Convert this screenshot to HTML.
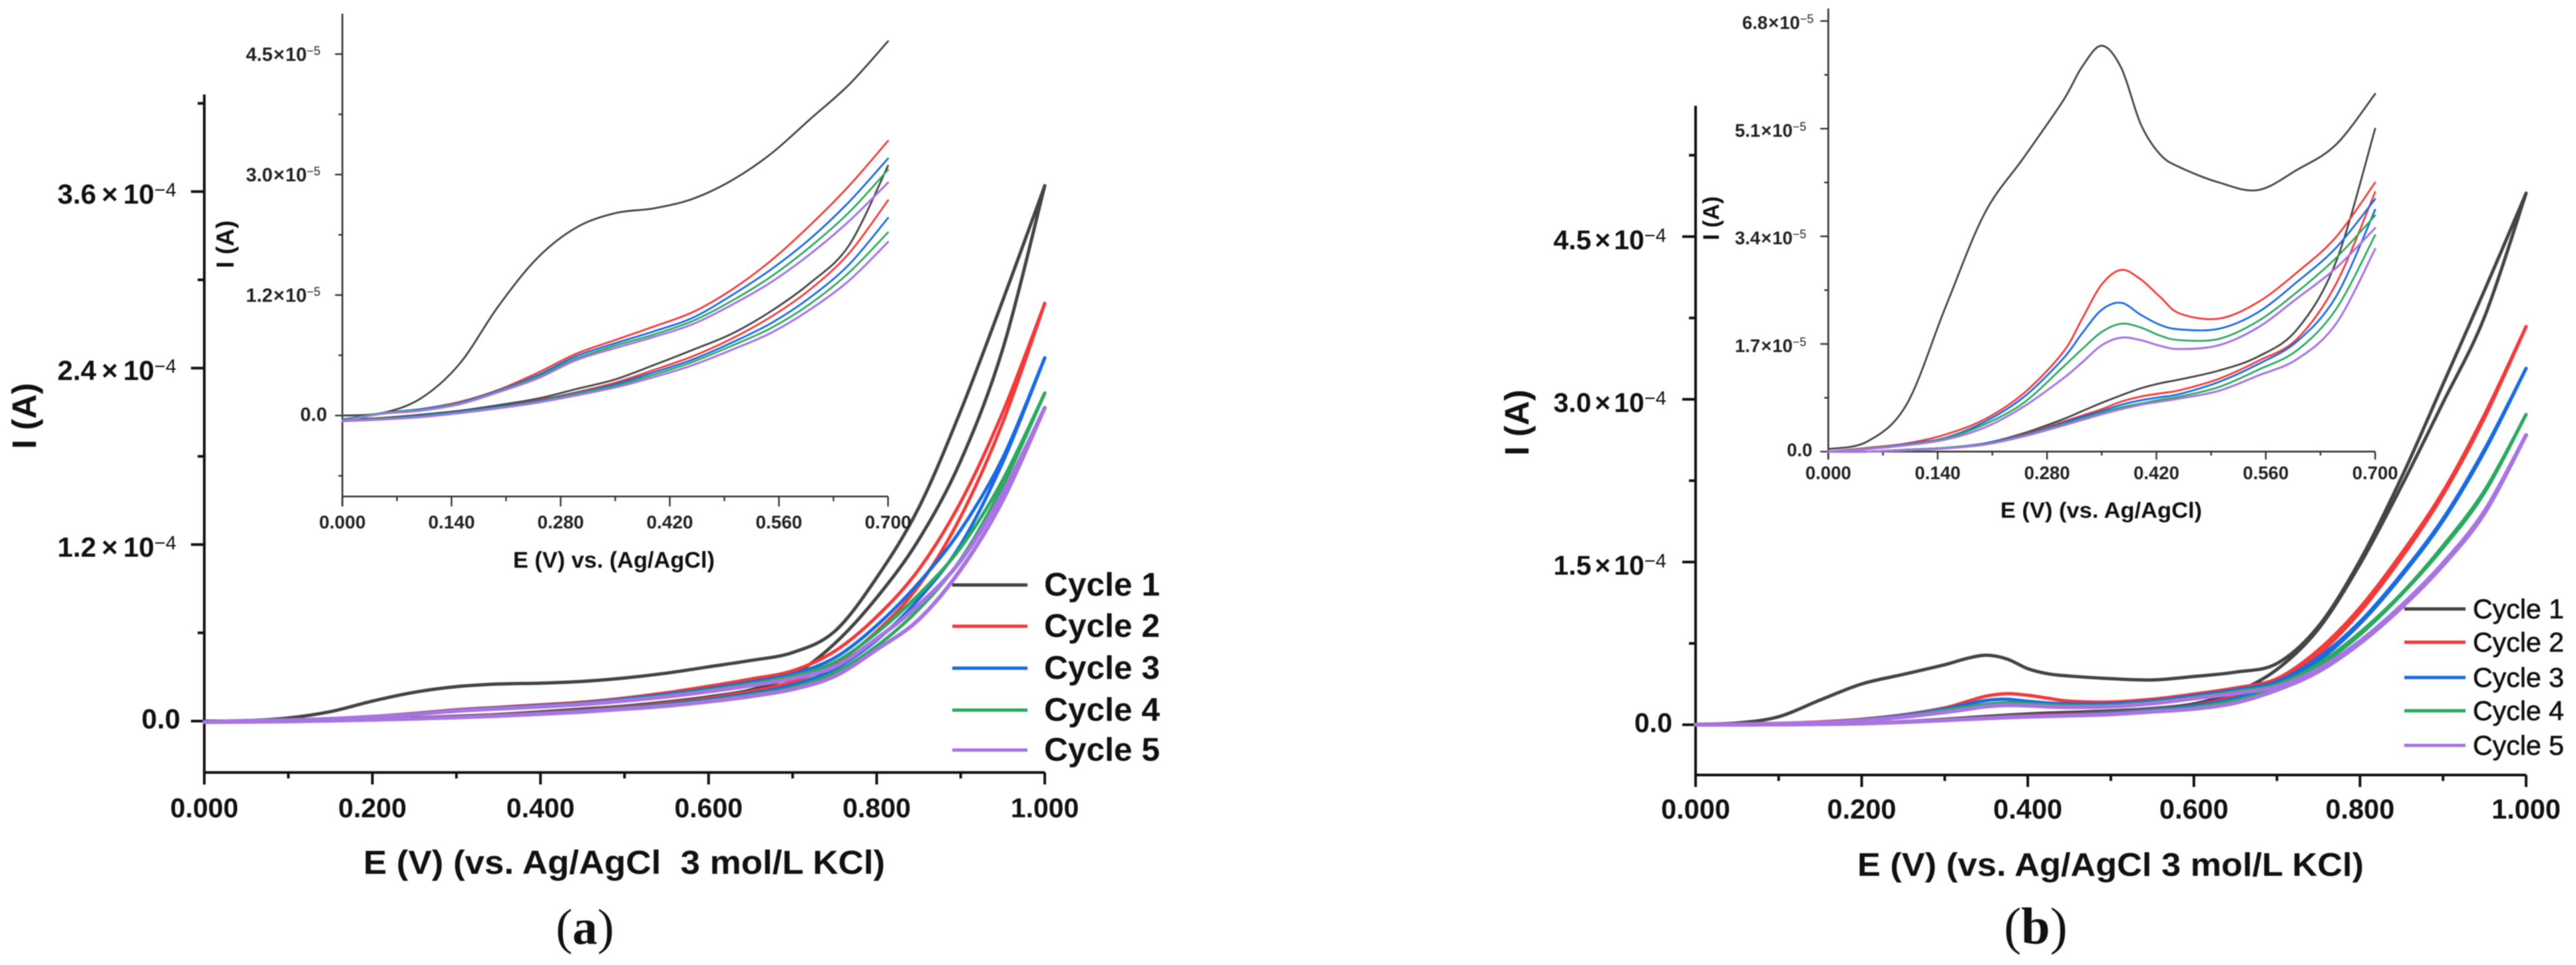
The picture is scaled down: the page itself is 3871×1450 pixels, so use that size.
<!DOCTYPE html>
<html lang="en">
<head>
<meta charset="utf-8">
<title>Cyclic voltammograms (a) and (b)</title>
<style>
html,body{margin:0;padding:0;background:#fff;}
#figure{display:block;width:3871px;height:1450px;background:#fff;font-family:"Liberation Sans",sans-serif;filter:blur(0.7px);}
text{fill:#111;}
.main-tick{font-weight:bold;}
.inset-tick{font-weight:bold;fill:#222;}
.title{font-weight:bold;}
.legend-a{font-weight:bold;font-size:49px;}
.legend-b{font-size:41px;stroke:#111;stroke-width:.7px;}
.cap{font-family:"Liberation Serif",serif;}
</style>
</head>
<body>
<svg id="figure" xmlns="http://www.w3.org/2000/svg" width="3871" height="1450" viewBox="0 0 3871 1450">
  <g id="a-main"></g>
  <g id="a-inset"></g>
  <g id="b-main"></g>
  <g id="b-inset"></g>

  <text class="title" x="546" y="1313" font-size="50" textLength="784" lengthAdjust="spacingAndGlyphs" xml:space="preserve">E (V) (vs. Ag/AgCl  3 mol/L KCl)</text>
  <text class="title" transform="translate(54,625) rotate(-90)" text-anchor="middle" font-size="51">I (A)</text>
  <text class="title" x="771" y="853" font-size="34" textLength="303" lengthAdjust="spacingAndGlyphs">E (V) vs. (Ag/AgCl)</text>
  <text class="title" transform="translate(351,367) rotate(-90)" text-anchor="middle" font-size="37">I (A)</text>

  <text class="title" x="2791" y="1316" font-size="49" textLength="761" lengthAdjust="spacingAndGlyphs">E (V) (vs. Ag/AgCl 3 mol/L KCl)</text>
  <text class="title" transform="translate(2297,635) rotate(-90)" text-anchor="middle" font-size="51">I (A)</text>
  <text class="title" x="3006" y="778" font-size="33" textLength="303" lengthAdjust="spacingAndGlyphs">E (V) (vs. Ag/AgCl)</text>
  <text class="title" transform="translate(2583,328) rotate(-90)" text-anchor="middle" font-size="34">I (A)</text>

  <g>
    <line x1="1431" x2="1544" y1="879" y2="879" stroke="#444" stroke-width="5"/>
    <text class="legend-a" x="1569" y="895" textLength="174" lengthAdjust="spacingAndGlyphs">Cycle 1</text>
    <line x1="1431" x2="1544" y1="941" y2="941" stroke="#f23a3a" stroke-width="5"/>
    <text class="legend-a" x="1569" y="957" textLength="174" lengthAdjust="spacingAndGlyphs">Cycle 2</text>
    <line x1="1431" x2="1544" y1="1004" y2="1004" stroke="#1a6ae0" stroke-width="5"/>
    <text class="legend-a" x="1569" y="1020" textLength="174" lengthAdjust="spacingAndGlyphs">Cycle 3</text>
    <line x1="1431" x2="1544" y1="1067" y2="1067" stroke="#2ca85f" stroke-width="5"/>
    <text class="legend-a" x="1569" y="1083" textLength="174" lengthAdjust="spacingAndGlyphs">Cycle 4</text>
    <line x1="1431" x2="1544" y1="1127" y2="1127" stroke="#a874e2" stroke-width="5"/>
    <text class="legend-a" x="1569" y="1143" textLength="174" lengthAdjust="spacingAndGlyphs">Cycle 5</text>
  </g>

  <g>
    <line x1="3613" x2="3705" y1="915" y2="915" stroke="#444" stroke-width="5"/>
    <text class="legend-b" x="3716" y="929" textLength="137" lengthAdjust="spacingAndGlyphs">Cycle 1</text>
    <line x1="3613" x2="3705" y1="965" y2="965" stroke="#f23a3a" stroke-width="5"/>
    <text class="legend-b" x="3716" y="979" textLength="137" lengthAdjust="spacingAndGlyphs">Cycle 2</text>
    <line x1="3613" x2="3705" y1="1018" y2="1018" stroke="#1a6ae0" stroke-width="5"/>
    <text class="legend-b" x="3716" y="1032" textLength="137" lengthAdjust="spacingAndGlyphs">Cycle 3</text>
    <line x1="3613" x2="3705" y1="1068" y2="1068" stroke="#2ca85f" stroke-width="5"/>
    <text class="legend-b" x="3716" y="1082" textLength="137" lengthAdjust="spacingAndGlyphs">Cycle 4</text>
    <line x1="3613" x2="3705" y1="1120" y2="1120" stroke="#a874e2" stroke-width="5"/>
    <text class="legend-b" x="3716" y="1134" textLength="137" lengthAdjust="spacingAndGlyphs">Cycle 5</text>
  </g>

  <text class="cap" x="879" y="1418" font-size="75" text-anchor="middle">(<tspan font-weight="bold">a</tspan>)</text>
  <text class="cap" x="3059" y="1418" font-size="78" text-anchor="middle">(<tspan font-weight="bold">b</tspan>)</text>
</svg>

<script>
// All currents are in units of 1e-5 A; potentials are in V.
const cycleNames = ['Cycle 1', 'Cycle 2', 'Cycle 3', 'Cycle 4', 'Cycle 5'];

// ---- Panel (a) ----
const a_E = [0,.05,.1,.15,.2,.25,.3,.35,.4,.45,.5,.55,.6,.65,.7,.75,.8,.85,.9,.95,1];
const a_c1_up = [0,.03,.21,.64,1.36,1.96,2.34,2.52,2.58,2.70,2.93,3.26,3.69,4.12,4.66,6.1,9.75,14.5,21.1,28.6,36.4];
const a_c1_dn = [-.05,-.03,.01,.06,.13,.21,.33,.45,.63,.82,1.02,1.30,1.65,2.12,3.11,5.27,8.39,12.33,17.7,25.3,36.4];
const a_c2_up = [-.05,.03,.08,.17,.32,.53,.77,.94,1.11,1.29,1.57,1.93,2.37,2.86,3.42,4.75,7.1,10.3,14.9,21,28.4];
const a_c2_dn = [-.06,-.04,0,.05,.11,.19,.29,.41,.57,.74,.96,1.23,1.57,2.02,2.68,3.9,6.1,9.2,13.9,20.3,28.4];
const a_c3_up = [-.05,.03,.08,.16,.31,.50,.74,.90,1.05,1.22,1.50,1.82,2.2,2.66,3.20,4.3,6.5,9.4,13,17.9,24.7];
const a_c3_dn = [-.06,-.04,0,.05,.11,.18,.28,.39,.54,.70,.91,1.15,1.47,1.88,2.46,3.55,5.5,8.3,12.0,17.6,24.7];
const a_c4_up = [-.06,.03,.07,.15,.30,.48,.71,.87,1.01,1.18,1.43,1.73,2.1,2.53,3.06,4.0,6.0,8.6,11.8,16.4,22.3];
const a_c4_dn = [-.06,-.04,-.01,.04,.10,.17,.27,.37,.51,.67,.87,1.09,1.39,1.78,2.28,3.3,5.1,7.6,11.0,16.0,22.3];
const a_c5_up = [-.07,.02,.06,.14,.29,.46,.69,.84,.98,1.14,1.38,1.66,2.01,2.42,2.9,3.7,5.6,7.9,10.9,15.5,21.3];
const a_c5_dn = [-.07,-.05,-.02,.03,.09,.16,.25,.35,.48,.63,.82,1.03,1.32,1.68,2.16,3.05,4.86,6.9,10.3,15.0,21.3];

// ---- Panel (b) ----
const b_E = [0,.05,.1,.15,.2,.25,.3,.325,.35,.375,.4,.425,.45,.5,.55,.6,.65,.7,.75,.8,.85,.9,.95,1];
const b_c1_up = [.04,.16,.74,2.28,3.76,4.64,5.53,6.08,6.41,6.06,5.17,4.69,4.49,4.25,4.13,4.45,4.85,5.65,9.08,15.15,22.8,31.4,40.06,49];
const b_c1_dn = [0,0,.03,.06,.13,.29,.51,.64,.77,.89,1.0,1.08,1.14,1.28,1.5,1.93,3.0,5.1,8.83,14.8,22,29.7,37.6,49];
const b_c2_up = [0,.06,.13,.27,.51,.92,1.56,2.1,2.64,2.87,2.72,2.44,2.18,2.1,2.36,2.83,3.39,4.25,6.9,10.8,15.8,21.5,28.6,36.7];
const b_c2_dn = [0,0,.03,.06,.13,.27,.47,.57,.67,.79,.87,.92,.97,1.15,1.43,1.78,2.65,4.1,6.5,10.4,15.4,21.2,28.3,36.7];
const b_c3_up = [0,.05,.12,.22,.47,.86,1.46,1.87,2.24,2.35,2.16,2.0,1.93,1.94,2.2,2.68,3.22,3.99,6.2,9.5,13.9,19.0,25.4,32.85];
const b_c3_dn = [0,0,.03,.06,.13,.26,.45,.55,.64,.74,.81,.86,.91,1.1,1.38,1.74,2.45,3.82,5.9,9.3,13.7,18.8,25.2,32.85];
const b_c4_up = [0,.05,.11,.21,.43,.77,1.33,1.62,1.89,2.02,1.96,1.83,1.76,1.78,2.06,2.52,3.06,3.73,5.6,8.5,12.1,16.5,21.6,28.6];
const b_c4_dn = [0,0,.03,.06,.12,.25,.43,.52,.61,.7,.76,.82,.87,1.02,1.29,1.6,2.25,3.42,5.4,8.3,12.0,16.3,21.4,28.6];
const b_c5_up = [0,.04,.1,.19,.38,.71,1.15,1.41,1.68,1.8,1.76,1.67,1.62,1.68,1.96,2.42,2.9,3.53,5.15,7.7,11.0,14.9,19.7,26.7];
const b_c5_dn = [0,0,.02,.05,.11,.24,.41,.5,.59,.67,.74,.79,.84,.96,1.2,1.46,2.02,3.2,4.9,7.5,10.8,14.7,19.5,26.7];

// ---- Tick values and printed labels ----
const mainXTicks = [0,.2,.4,.6,.8,1];
const mainXMinor = [.1,.3,.5,.7,.9];
const mainXLabels = ['0.000','0.200','0.400','0.600','0.800','1.000'];
const insetXTicks = [0,.14,.28,.42,.56,.7];
const insetXMinor = [.07,.21,.35,.49,.63];
const insetXLabels = ['0.000','0.140','0.280','0.420','0.560','0.700'];

const aMainYTicks = [0,12,24,36];
const aMainYMinor = [6,18,30,42];
const aMainYLabels = ['0.0','1.2','2.4','3.6'];
const aInsetYTicks = [0,1.5,3,4.5];
const aInsetYMinor = [-.75,.75,2.25,3.75];
const aInsetYLabels = ['0.0','1.2','3.0','4.5'];

const bMainYTicks = [0,15,30,45];
const bMainYMinor = [7.5,22.5,37.5,52.5];
const bMainYLabels = ['0.0','1.5','3.0','4.5'];
const bInsetYTicks = [0,1.7,3.4,5.1,6.8];
const bInsetYMinor = [.85,2.55,4.25,5.95];
const bInsetYLabels = ['0.0','1.7','3.4','5.1','6.8'];

const SVGNS = 'http://www.w3.org/2000/svg';
const palette = ['#444444','#f23a3a','#1a6ae0','#2ca85f','#a874e2'];

function make(tag, parent, attrs) {
  const el = document.createElementNS(SVGNS, tag);
  for (const k in attrs) el.setAttribute(k, attrs[k]);
  parent.appendChild(el);
  return el;
}

function smoothPath(pts) {
  let d = 'M' + pts[0][0].toFixed(2) + ' ' + pts[0][1].toFixed(2);
  for (let i = 0; i < pts.length - 1; i++) {
    const p0 = pts[Math.max(i - 1, 0)], p1 = pts[i], p2 = pts[i + 1], p3 = pts[Math.min(i + 2, pts.length - 1)];
    const c1x = p1[0] + (p2[0] - p0[0]) / 6, c1y = p1[1] + (p2[1] - p0[1]) / 6;
    const c2x = p2[0] - (p3[0] - p1[0]) / 6, c2y = p2[1] - (p3[1] - p1[1]) / 6;
    d += 'C' + c1x.toFixed(2) + ' ' + c1y.toFixed(2) + ' ' + c2x.toFixed(2) + ' ' + c2y.toFixed(2) + ' ' + p2[0].toFixed(2) + ' ' + p2[1].toFixed(2);
  }
  return d;
}

function drawTick(g, x1, y1, x2, y2, width, color, name) {
  const el = make('line', g, {x1: x1, y1: y1, x2: x2, y2: y2, stroke: color, 'stroke-width': width});
  
  
}

function drawYLabel(g, cfg, label, tickY) {
  const isZero = label === '0.0';
  const isTop = label === '6.8';
  const endX = cfg.axisX - (isZero ? cfg.zeroGap : (isTop ? cfg.topGap : cfg.sciGap));
  const base = tickY + (isZero ? cfg.zeroDrop : cfg.sciDrop);
  const t = make('text', g, {x: endX, y: base, 'text-anchor': 'end', 'font-size': cfg.fontY, class: cfg.cls});
  
  
  if (isZero) { t.textContent = label; return; }
  const a = make('tspan', t, {}); a.textContent = label;
  const b = make('tspan', t, {dx: cfg.gap}); b.textContent = '\u00d7';
  const c = make('tspan', t, {dx: cfg.gap}); c.textContent = '10';
  const d = make('tspan', t, {dy: -cfg.supRise, 'font-size': cfg.supSize, 'font-weight': 'normal'}); d.textContent = cfg.exp;
}

function drawChart(cfg) {
  const g = document.getElementById(cfg.id);
  const X = v => cfg.x0 + cfg.xk * v;
  const Y = v => cfg.y0 - cfg.yk * v;

  const yAxis = make('line', g, {x1: cfg.x0, x2: cfg.x0, y1: cfg.top, y2: cfg.bottom + cfg.xMajor, stroke: cfg.axisColor, 'stroke-width': cfg.axisW});
  
  
  const xAxis = make('line', g, {x1: cfg.x0, x2: X(cfg.xEnd), y1: cfg.bottom, y2: cfg.bottom, stroke: cfg.axisColor, 'stroke-width': cfg.axisW});
  
  

  cfg.xTicks.forEach((v, i) => {
    drawTick(g, X(v), cfg.bottom, X(v), cfg.bottom + cfg.xMajor, cfg.tickW, cfg.axisColor, 'x-major-tick');
    const t = make('text', g, {x: X(v), y: cfg.xLabelY, 'text-anchor': 'middle', 'font-size': cfg.fontX, class: cfg.cls});
    
    
    t.textContent = cfg.xLabels[i];
  });
  cfg.xMinor.forEach(v => drawTick(g, X(v), cfg.bottom, X(v), cfg.bottom + cfg.xMinorLen, cfg.tickW, cfg.axisColor, 'x-minor-tick'));

  cfg.yTicks.forEach((v, i) => {
    drawTick(g, cfg.x0 - cfg.yMajor, Y(v), cfg.x0, Y(v), cfg.tickW, cfg.axisColor, 'y-major-tick');
    drawYLabel(g, cfg, cfg.yLabels[i], Y(v));
  });
  cfg.yMinor.forEach(v => drawTick(g, cfg.x0 - cfg.yMinorLen, Y(v), cfg.x0, Y(v), cfg.tickW, cfg.axisColor, 'y-minor-tick'));

  cfg.series.forEach((branches, c) => {
    const sg = make('g', g, {});
    
    
    branches.forEach((vals, b) => {
      const pts = [];
      cfg.E.forEach((e, i) => { if (e <= cfg.xEnd + 1e-9) pts.push([X(e), Y(vals[i])]); });
      const p = make('path', sg, {d: smoothPath(pts), fill: 'none', stroke: palette[c], 'stroke-width': cfg.lineW + (c === 4 ? cfg.purpleExtra : 0), 'stroke-linejoin': 'round', 'stroke-linecap': 'round'});
      
      
    });
  });
}

const aSeries = [[a_c1_up,a_c1_dn],[a_c2_up,a_c2_dn],[a_c3_up,a_c3_dn],[a_c4_up,a_c4_dn],[a_c5_up,a_c5_dn]];
const bSeries = [[b_c1_up,b_c1_dn],[b_c2_up,b_c2_dn],[b_c3_up,b_c3_dn],[b_c4_up,b_c4_dn],[b_c5_up,b_c5_dn]];

drawChart({id:'a-main', E:a_E, series:aSeries, x0:307, xk:1263, y0:1083.5, yk:22.1, top:142, bottom:1160.7, xEnd:1,
  axisX:307, axisColor:'#111', axisW:4, tickW:4, xMajor:18, xMinorLen:9, yMajor:20, yMinorLen:10, lineW:5, purpleExtra:1,
  xTicks:mainXTicks, xMinor:mainXMinor, xLabels:mainXLabels, yTicks:aMainYTicks, yMinor:aMainYMinor, yLabels:aMainYLabels,
  fontX:41, fontY:42, cls:'main-tick', xLabelY:1228, sciGap:42, zeroGap:36, topGap:42, sciDrop:18, zeroDrop:11, gap:8, supSize:29, supRise:11, exp:'\u22124'});

drawChart({id:'a-inset', E:a_E, series:aSeries, x0:514.5, xk:1171.4, y0:624.4, yk:120.7, top:20.6, bottom:746, xEnd:.7,
  axisX:514.5, axisColor:'#333', axisW:2.6, tickW:2.4, xMajor:15, xMinorLen:7, yMajor:11, yMinorLen:6, lineW:2.8, purpleExtra:.3,
  xTicks:insetXTicks, xMinor:insetXMinor, xLabels:insetXLabels, yTicks:aInsetYTicks, yMinor:aInsetYMinor, yLabels:aInsetYLabels,
  fontX:28, fontY:29, cls:'inset-tick', xLabelY:794, sciGap:33, zeroGap:23, topGap:33, sciDrop:10, zeroDrop:8, gap:1, supSize:18, supRise:9, exp:'\u22125'});

drawChart({id:'b-main', E:b_E, series:bSeries, x0:2548, xk:1248, y0:1089, yk:16.3, top:159, bottom:1164.5, xEnd:1,
  axisX:2548, axisColor:'#111', axisW:4, tickW:4, xMajor:18, xMinorLen:9, yMajor:20, yMinorLen:10, lineW:5, purpleExtra:1,
  xTicks:mainXTicks, xMinor:mainXMinor, xLabels:mainXLabels, yTicks:bMainYTicks, yMinor:bMainYMinor, yLabels:bMainYLabels,
  fontX:41.5, fontY:41, cls:'main-tick', xLabelY:1230, sciGap:44, zeroGap:35, topGap:44, sciDrop:19, zeroDrop:11, gap:5, supSize:29, supRise:11, exp:'\u22124'});

drawChart({id:'b-inset', E:b_E, series:bSeries, x0:2747.4, xk:1174, y0:678.6, yk:95.15, top:12.8, bottom:678.6, xEnd:.7,
  axisX:2747.4, axisColor:'#333', axisW:2.6, tickW:2.4, xMajor:12, xMinorLen:6, yMajor:12, yMinorLen:6, lineW:2.8, purpleExtra:.3,
  xTicks:insetXTicks, xMinor:insetXMinor, xLabels:insetXLabels, yTicks:bInsetYTicks, yMinor:bInsetYMinor, yLabels:bInsetYLabels,
  fontX:27.5, fontY:27.5, cls:'inset-tick', xLabelY:720, sciGap:33, zeroGap:24, topGap:22, sciDrop:12, zeroDrop:7, gap:1, supSize:18, supRise:9, exp:'\u22125'});
</script>
</body>
</html>
